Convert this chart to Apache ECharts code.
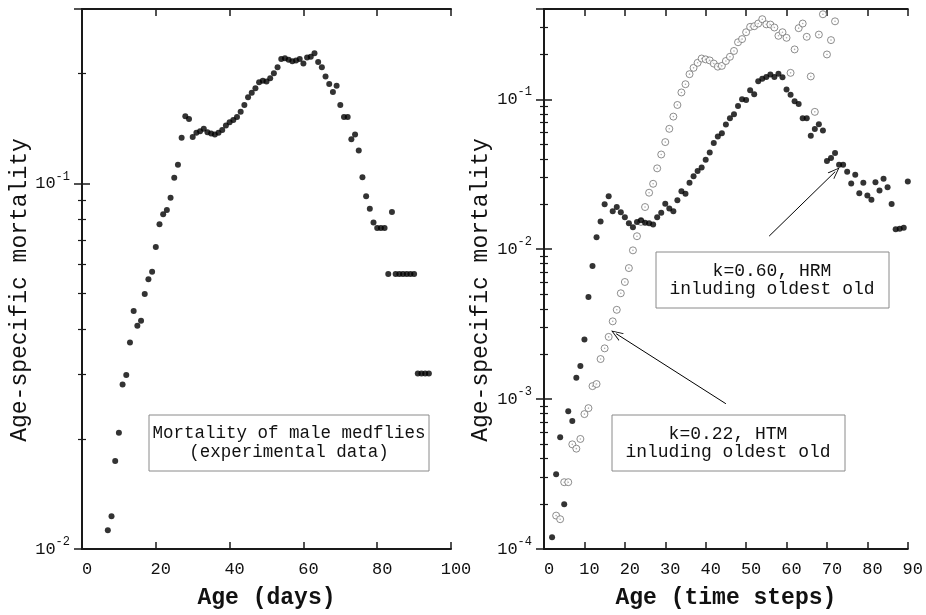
<!DOCTYPE html>
<html lang="en">
<head>
<meta charset="utf-8">
<title>Age-specific mortality</title>
<script src="https://cdn.jsdelivr.net/npm/echarts@6/dist/echarts.min.js"></script>
<style>
    html, body { margin: 0; padding: 0; background: #fff; }
    #main { width: 926px; height: 615px; }
</style>
</head>
<body>
<div id="main"></div>
<script>
    // left panel: male medflies, experimental data
    var medflyAge = [7, 8, 9, 10, 11, 12, 13, 14, 15, 16, 17, 18, 19, 20, 21, 22, 23, 24, 25, 26,
        27, 28, 29, 30, 31, 32, 33, 34, 35, 36, 37, 38, 39, 40, 41, 42, 43, 44, 45, 46,
        47, 48, 49, 50, 51, 52, 53, 54, 55, 56, 57, 58, 59, 60, 61, 62, 63, 64, 65, 66,
        67, 68, 69, 70, 71, 72, 73, 74, 75, 76, 77, 78, 79, 80, 81, 82, 83, 84, 85, 86,
        87, 88, 89, 90, 91, 92, 93, 94];
    var medflyMort = [0.01125, 0.0123, 0.0174, 0.0208, 0.0282, 0.0299, 0.0367, 0.0448, 0.0408, 0.0421,
        0.0498, 0.0547, 0.0573, 0.067, 0.0773, 0.0824, 0.0846, 0.0914, 0.1037, 0.1125,
        0.1334, 0.1526, 0.150, 0.134, 0.1375, 0.139, 0.141, 0.138, 0.137, 0.136,
        0.1375, 0.140, 0.144, 0.147, 0.149, 0.152, 0.157, 0.164, 0.172, 0.177,
        0.182, 0.189, 0.191, 0.190, 0.194, 0.200, 0.208, 0.219, 0.220, 0.218,
        0.216, 0.217, 0.219, 0.213, 0.221, 0.222, 0.227, 0.215, 0.208, 0.196,
        0.187, 0.178, 0.185, 0.164, 0.152, 0.152, 0.132, 0.136, 0.123, 0.104,
        0.0923, 0.0853, 0.0782, 0.0755, 0.0755, 0.0755, 0.0565, 0.0835, 0.0565, 0.0565,
        0.0565, 0.0565, 0.0565, 0.0565, 0.0302, 0.0302, 0.0302, 0.0302];

    // right panel: model, k=0.60 HRM (filled dots)
    var hrmStep = [2, 3, 4, 5, 6, 7, 8, 9, 10, 11, 12, 13, 14, 15, 16, 17, 18, 19, 20, 21,
        22, 23, 24, 25, 26, 27, 28, 29, 30, 31, 32, 33, 34, 35, 36, 37, 38, 39, 40, 41,
        42, 43, 44, 45, 46, 47, 48, 49, 50, 51, 52, 53, 54, 55, 56, 57, 58, 59, 60, 61,
        62, 63, 64, 65, 66, 67, 68, 69, 70, 71, 72, 73, 74, 75, 76, 77, 78, 79, 80, 81,
        82, 83, 84, 85, 86, 87, 88, 89, 90];
    var hrmMort = [1.2e-4, 3.15e-4, 5.56e-4, 1.99e-4, 8.3e-4, 7.14e-4, 1.39e-3, 1.66e-3, 2.5e-3, 4.79e-3,
        7.72e-3, 0.0120, 0.0153, 0.0199, 0.0225, 0.0179, 0.0191, 0.0176, 0.0163, 0.0149,
        0.0140, 0.0152, 0.0156, 0.0150, 0.0149, 0.0146, 0.0163, 0.0175, 0.0201, 0.0187,
        0.0179, 0.0212, 0.0243, 0.0234, 0.0277, 0.0306, 0.0332, 0.0351, 0.0395, 0.0442,
        0.0510, 0.0564, 0.0594, 0.0678, 0.0748, 0.0795, 0.0902, 0.100, 0.099, 0.115,
        0.108, 0.132, 0.137, 0.141, 0.146, 0.141, 0.148, 0.140, 0.116, 0.107,
        0.097, 0.093, 0.0748, 0.0748, 0.057, 0.0633, 0.068, 0.0618, 0.0388, 0.0406,
        0.0438, 0.0366, 0.0366, 0.0329, 0.0274, 0.0314, 0.0236, 0.0277, 0.0228, 0.0214,
        0.0279, 0.0246, 0.0295, 0.0259, 0.0200, 0.0136, 0.0137, 0.0139, 0.0283];

    // right panel: model, k=0.22 HTM (open circles)
    var htmStep = [3, 4, 5, 6, 7, 8, 9, 10, 11, 12, 13, 14, 15, 16, 17, 18, 19, 20, 21, 22,
        23, 24, 25, 26, 27, 28, 29, 30, 31, 32, 33, 34, 35, 36, 37, 38, 39, 40, 41, 42,
        43, 44, 45, 46, 47, 48, 49, 50, 51, 52, 53, 54, 55, 56, 57, 58, 59, 60, 61, 62,
        63, 64, 65, 66, 67, 68, 69, 70, 71, 72];
    var htmMort = [1.67e-4, 1.58e-4, 2.79e-4, 2.79e-4, 4.99e-4, 4.67e-4, 5.42e-4, 7.94e-4, 8.7e-4, 1.22e-3,
        1.26e-3, 1.85e-3, 2.18e-3, 2.6e-3, 3.3e-3, 3.94e-3, 5.08e-3, 6.04e-3, 7.48e-3, 9.82e-3,
        0.0122, 0.0152, 0.0191, 0.0238, 0.0273, 0.0346, 0.0428, 0.0518, 0.0635, 0.0766,
        0.0916, 0.111, 0.126, 0.147, 0.162, 0.175, 0.187, 0.1845, 0.1816, 0.173,
        0.165, 0.167, 0.180, 0.192, 0.210, 0.240, 0.252, 0.280, 0.304, 0.307,
        0.320, 0.342, 0.316, 0.315, 0.301, 0.265, 0.280, 0.257, 0.150, 0.215,
        0.298, 0.320, 0.261, 0.142, 0.0824, 0.270, 0.369, 0.199, 0.248, 0.331];

    var leftTicks = [0, 20, 40, 60, 80, 100];
    var rightTicks = [0, 10, 20, 30, 40, 50, 60, 70, 80, 90];

    var FONT = '"Liberation Mono", "DejaVu Sans Mono", monospace';
    var INK = '#1a1a1a';
    var ARROW = 'path://M5,0 L10,13 L9,13 L5,2.5 L1,13 L0,13 Z';

    function pairs(xs, ys) {
        var out = [];
        for (var i = 0; i < xs.length; i++) {
            out.push([xs[i], ys[i]]);
        }
        return out;
    }

    // 10^n labels, only on whole decades
    function powLabel(v) {
        var lg = Math.log(v) / Math.LN10;
        var e = Math.round(lg);
        if (Math.abs(lg - e) > 0.01) {
            return '';
        }
        return '{b|10}{s|' + e + '}';
    }

    var powRich = {
        b: { fontFamily: FONT, fontSize: 17, color: '#111' },
        s: { fontFamily: FONT, fontSize: 12, color: '#111', padding: [0, 0, 14, 0] }
    };

    function xAxisFor(grid, ticks, pos, name) {
        return {
            gridIndex: grid,
            type: 'value',
            position: pos,
            min: ticks[0],
            max: ticks[ticks.length - 1],
            interval: ticks[1] - ticks[0],
            axisLine: { show: true, onZero: false, lineStyle: { color: INK, width: 2 } },
            axisTick: { show: true, inside: true, length: 7, lineStyle: { color: INK, width: 1.5 } },
            axisLabel: {
                show: pos === 'bottom',
                fontFamily: FONT, fontSize: 17, color: '#111', margin: 12,
                padding: [0, 0, 0, 10]
            },
            splitLine: { show: false },
            name: pos === 'bottom' ? name : '',
            nameLocation: 'middle',
            nameGap: 38,
            nameTextStyle: { fontFamily: FONT, fontSize: 23, fontWeight: 'bold', color: '#111' }
        };
    }

    function yAxisFor(grid, min, max, pos, nameGap) {
        return {
            gridIndex: grid,
            type: 'log',
            logBase: 10,
            position: pos,
            min: min,
            max: max,
            axisLine: { show: true, lineStyle: { color: INK, width: 2 } },
            axisTick: { show: true, inside: true, length: 8, lineStyle: { color: INK, width: 1.5 } },
            minorTick: { show: true, splitNumber: 9, length: 4, lineStyle: { color: INK, width: 1.2 } },
            axisLabel: {
                show: pos === 'left',
                margin: 12,
                formatter: powLabel,
                rich: powRich
            },
            splitLine: { show: false },
            minorSplitLine: { show: false },
            name: pos === 'left' ? 'Age-specific mortality' : '',
            nameLocation: 'middle',
            nameGap: nameGap,
            // extra padding on the far end pushes the rotated title a bit lower
            nameTextStyle: { fontFamily: FONT, fontSize: 23, color: '#111', padding: [0, 22, 0, 0] }
        };
    }

    var chart = echarts.init(document.getElementById('main'), null, { renderer: 'canvas' });

    var option = {
        animation: false,
        backgroundColor: '#fff',
        grid: [
            { left: 82, top: 9, width: 369, height: 542 },
            { left: 544, top: 9, width: 368, height: 542 }
        ],
        xAxis: [
            xAxisFor(0, leftTicks, 'bottom', 'Age (days)'),
            xAxisFor(0, leftTicks, 'top', ''),
            xAxisFor(1, rightTicks, 'bottom', 'Age (time steps)'),
            xAxisFor(1, rightTicks, 'top', '')
        ],
        yAxis: [
            yAxisFor(0, 0.01, 0.3, 'left', 50),
            yAxisFor(0, 0.01, 0.3, 'right', 0),
            yAxisFor(1, 1e-4, 0.4, 'left', 52),
            yAxisFor(1, 1e-4, 0.4, 'right', 0)
        ],
        series: [
            {
                name: 'medflies',
                type: 'scatter',
                xAxisIndex: 0,
                yAxisIndex: 0,
                symbol: 'circle',
                symbolSize: 6,
                itemStyle: { color: '#000' },
                data: pairs(medflyAge, medflyMort)
            },
            {
                name: 'k=0.22, HTM',
                type: 'scatter',
                xAxisIndex: 2,
                yAxisIndex: 2,
                symbol: 'circle',
                symbolSize: 7,
                itemStyle: { color: '#fff', borderColor: '#707070', borderWidth: 1 },
                data: pairs(htmStep, htmMort),
                markLine: {
                    silent: true,
                    symbol: ['none', ARROW],
                    symbolSize: [9, 12],
                    label: { show: false },
                    lineStyle: { color: '#000', width: 1, type: 'solid' },
                    data: [[{ coord: [45.0, 9.31e-4] }, { coord: [17.85, 2.73e-3] }]]
                }
            },
            {
                // faint centre dot of the open circles
                name: 'k=0.22, HTM centre',
                type: 'scatter',
                xAxisIndex: 2,
                yAxisIndex: 2,
                symbol: 'circle',
                symbolSize: 1.6,
                silent: true,
                itemStyle: { color: '#9a9a9a' },
                data: pairs(htmStep, htmMort)
            },
            {
                name: 'k=0.60, HRM',
                type: 'scatter',
                xAxisIndex: 2,
                yAxisIndex: 2,
                symbol: 'circle',
                symbolSize: 6,
                itemStyle: { color: '#000' },
                data: pairs(hrmStep, hrmMort),
                markLine: {
                    silent: true,
                    symbol: ['none', ARROW],
                    symbolSize: [9, 12],
                    label: { show: false },
                    lineStyle: { color: '#000', width: 1, type: 'solid' },
                    data: [[{ coord: [55.7, 0.01222] }, { coord: [72.05, 0.0329] }]]
                }
            }
        ],
        graphic: [
            {
                type: 'rect', z: 10,
                shape: { x: 149, y: 415, width: 280, height: 56 },
                style: { fill: '#fff', stroke: '#8a8a8a', lineWidth: 1 }
            },
            {
                type: 'text', z: 11, x: 289, y: 443,
                style: {
                    text: 'Mortality of male medflies\n(experimental data)',
                    fontFamily: FONT, fontSize: 17.5, lineHeight: 19, fill: '#111',
                    textAlign: 'center', textVerticalAlign: 'middle'
                }
            },
            {
                type: 'rect', z: 10,
                shape: { x: 656, y: 252, width: 233, height: 56 },
                style: { fill: '#fff', stroke: '#8a8a8a', lineWidth: 1 }
            },
            {
                type: 'text', z: 11, x: 772, y: 280,
                style: {
                    text: 'k=0.60, HRM\ninluding oldest old',
                    fontFamily: FONT, fontSize: 18, lineHeight: 18, fill: '#111',
                    textAlign: 'center', textVerticalAlign: 'middle'
                }
            },
            {
                type: 'rect', z: 10,
                shape: { x: 612, y: 415, width: 233, height: 56 },
                style: { fill: '#fff', stroke: '#8a8a8a', lineWidth: 1 }
            },
            {
                type: 'text', z: 11, x: 728, y: 443,
                style: {
                    text: 'k=0.22, HTM\ninluding oldest old',
                    fontFamily: FONT, fontSize: 18, lineHeight: 18, fill: '#111',
                    textAlign: 'center', textVerticalAlign: 'middle'
                }
            }
        ]
    };

    chart.setOption(option);
</script>
</body>
</html>
